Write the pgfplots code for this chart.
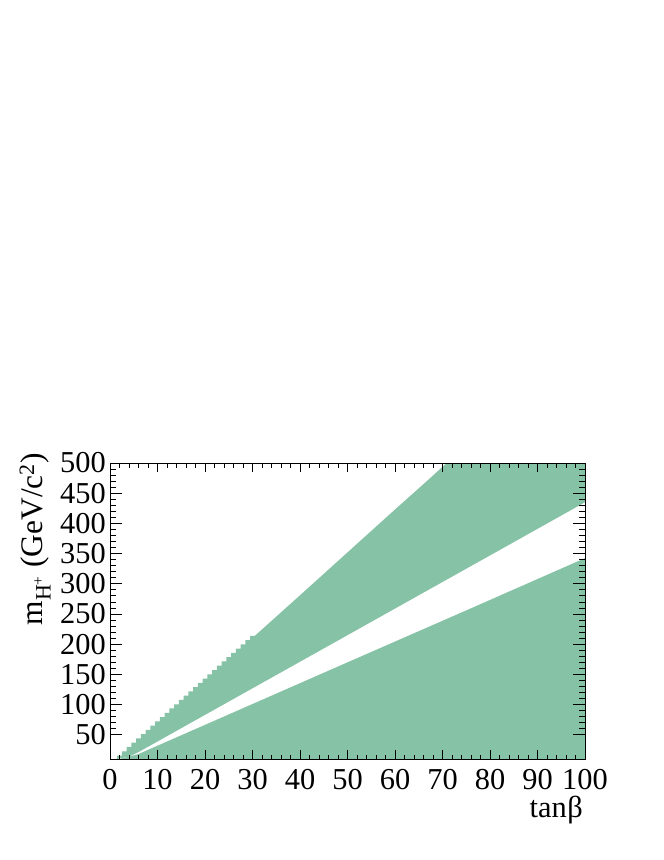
\documentclass[border=0pt]{standalone}
\usepackage{fontspec}
\setmainfont{Liberation Serif}
\usepackage{pgfplots}
\pgfplotsset{compat=1.18}
\definecolor{bandgreen}{RGB}{134,194,165}
\begin{document}
\fontsize{31}{36}\selectfont
\begin{tikzpicture}
\path (-110bp,-101bp) rectangle (554bp,759bp);
\begin{axis}[
  width=475bp, height=296bp, scale only axis,
  xmin=0, xmax=100, ymin=10, ymax=500,
  xtick={0,10,...,100}, ytick={50,100,...,500},
  minor x tick num=4, minor y tick num=4,
  tick align=inside, xtick pos=both, ytick pos=both,
  axis on top,
  axis line style={line width=0.8bp, black},
  every tick/.style={black, line width=0.8bp},
  major tick length=12bp, minor tick length=6bp,
  xtick style={/pgfplots/major tick length=9bp, /pgfplots/minor tick length=4.5bp},
  /pgf/number format/assume math mode=true,
  tick label style={font=\fontsize{30.5}{36}\selectfont, inner sep=0pt},
  xticklabel style={anchor=north, yshift=-10bp},
  yticklabel style={anchor=east, xshift=-4bp},
  xlabel={tan\kern0.5pt β},
  ylabel={m\textsubscript{H\textsuperscript{+}} (GeV/c\textsuperscript{2})},
  every axis x label/.style={at={([xshift=-2bp,yshift=-58bp]rel axis cs:1,0)}, anchor=base east, inner sep=0pt, font=\fontsize{30.5}{36}\selectfont},
  every axis y label/.style={at={([xshift=-67bp,yshift=10bp]rel axis cs:0,1)}, rotate=90, anchor=base east, inner sep=0pt, font=\fontsize{31.5}{36}\selectfont},
]
% lower band
\addplot[fill=bandgreen, draw=none] coordinates {
 (2,10) (6,18.2) (26,87.2) (50,170) (75,256) (100,342.5) (100,10)
} -- cycle;
% upper band
\addplot[fill=bandgreen, draw=none] coordinates {
 (1.5,10) (1.5,15.7) (2.5,15.7) (2.5,22.8) (3.5,22.8) (3.5,29.9) (4.5,29.9)
 (4.5,37.0) (5.5,37.0) (5.5,44.0) (6.5,44.0) (6.5,51.1) (7.5,51.1)
 (7.5,58.2) (8.5,58.2) (8.5,65.3) (9.5,65.3) (9.5,72.3) (10.5,72.3)
 (10.5,79.4) (11.5,79.4) (11.5,86.5) (12.5,86.5) (12.5,93.6) (13.5,93.6)
 (13.5,100.6) (14.5,100.6) (14.5,107.7) (15.5,107.7) (15.5,114.8) (16.5,114.8)
 (16.5,121.9) (17.5,121.9) (17.5,129.0) (18.5,129.0) (18.5,136.1) (19.5,136.1)
 (19.5,143.1) (20.5,143.1) (20.5,150.2) (21.5,150.2) (21.5,157.3) (22.5,157.3)
 (22.5,164.4) (23.5,164.4) (23.5,171.5) (24.5,171.5) (24.5,178.5) (25.5,178.5)
 (25.5,185.6) (26.5,185.6) (26.5,192.7) (27.5,192.7) (27.5,199.8) (28.5,199.8)
 (28.5,206.9) (29.5,206.9) (29.5,213.9) (30.5,213.9)
 (40,281) (50,352) (60,423) (66.7,470) (70.9,500)
 (100,500) (100,435)
 (75,325) (50,215) (25,105) (15,61) (10,39) (6,21.4) (4,14)
} -- cycle;
\end{axis}
\end{tikzpicture}
\end{document}
